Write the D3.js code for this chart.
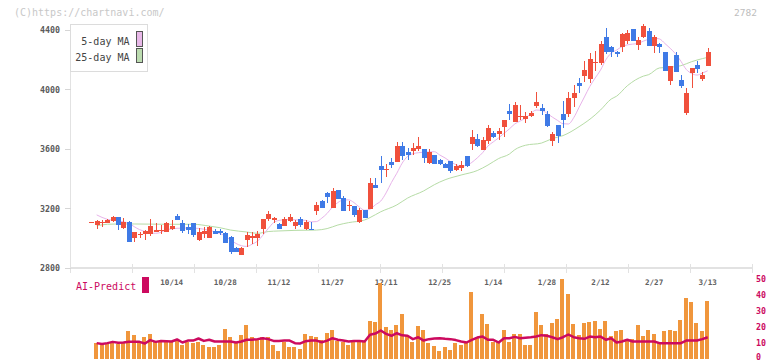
<!DOCTYPE html>
<html><head><meta charset="utf-8">
<script src="https://cdn.jsdelivr.net/npm/d3@7"></script>
<style>body{margin:0;background:#fff}svg{display:block}</style>
</head><body><svg id="c" width="772" height="361"></svg>
<script>
// ---- data ----
const open  = [3111,3086,3108,3105,3118,3143,3067,3111,3004,3022,3031,3028,3050,3051,3044,3064,3149,3100,3078,3100,2988,3026,3004,3049,3046,3038,3011,2937,2887,2988,3000,3000,3062,3129,3123,3093,3082,3118,3082,3129,3062,3064,3185,3252,3306,3205,3324,3271,3220,3217,3109,3190,3197,3358,3484,3460,3514,3515,3620,3582,3587,3600,3600,3506,3560,3526,3501,3519,3459,3473,3553,3633,3667,3593,3653,3707,3700,3748,3855,3783,3814,3802,3822,3889,3875,3835,3656,3761,3835,3834,3945,4046,4093,4071,4180,4180,4355,4288,4250,4284,4329,4406,4299,4355,4393,4292,4306,4252,4059,4232,4064,3844,4108,4162,4071,4160];
const high  = [3111,3123,3125,3130,3152,3145,3138,3113,3042,3044,3057,3129,3102,3089,3111,3123,3163,3123,3098,3102,3071,3076,3080,3060,3065,3040,3013,2944,2944,3040,3040,3049,3131,3185,3145,3105,3145,3160,3120,3140,3120,3107,3246,3260,3313,3340,3326,3284,3252,3220,3203,3192,3405,3405,3553,3497,3538,3649,3647,3605,3640,3680,3602,3602,3562,3530,3505,3522,3500,3520,3555,3727,3700,3680,3761,3720,3741,3797,3902,3918,3896,3851,3855,3983,3902,3857,3712,3763,3925,3986,4030,4075,4191,4243,4258,4326,4415,4290,4262,4382,4400,4408,4355,4440,4415,4366,4310,4254,4160,4250,4097,4008,4144,4191,4119,4277];
const low   = [3111,3060,3076,3100,3111,3057,3065,2977,2977,3000,2990,3017,3044,3031,3040,3057,3122,3035,3026,3006,2981,3004,3004,3026,3020,2968,2892,2906,2887,2944,2959,2950,3026,3116,3102,3060,3082,3110,3062,3075,3055,3055,3156,3203,3235,3205,3264,3185,3185,3145,3105,3134,3195,3336,3374,3414,3475,3512,3526,3526,3560,3584,3508,3500,3499,3490,3470,3440,3450,3452,3480,3593,3613,3593,3633,3673,3660,3680,3795,3783,3795,3777,3815,3873,3829,3750,3620,3638,3739,3817,3884,3974,4052,4041,4126,4165,4239,4217,4218,4253,4306,4327,4265,4345,4290,4247,4243,4124,4030,4119,4007,3828,4010,4113,4059,4158];
const close = [3111,3116,3112,3125,3143,3087,3111,2977,3040,3030,3047,3082,3053,3054,3100,3082,3123,3051,3057,3022,3044,3049,3076,3031,3033,2970,2906,2910,2937,3022,3017,3031,3129,3163,3138,3062,3129,3143,3111,3091,3107,3060,3224,3205,3279,3318,3266,3185,3226,3156,3190,3136,3371,3338,3456,3468,3494,3620,3555,3562,3607,3620,3539,3580,3501,3499,3474,3454,3484,3493,3486,3680,3620,3660,3741,3680,3720,3795,3835,3896,3820,3820,3842,3914,3857,3754,3701,3687,3795,3941,3979,4026,4131,4205,4186,4306,4250,4255,4236,4373,4378,4329,4332,4427,4294,4351,4288,4126,4158,4121,4023,3979,4142,4137,4097,4250];
const volume= [null,9.8,8.6,8.9,10.2,8.9,10.6,16.9,14.8,10.2,13.2,15.6,10.2,10.2,10.2,10.2,11.0,8.2,10.2,9.4,10.6,8.2,7.3,6.9,8.6,18.6,13.6,10.6,14.8,21.1,13.6,11.5,13.6,13.6,8.6,5.0,10.2,7.3,7.3,6.0,15.6,14.0,13.2,11.5,16.0,18.1,11.0,10.6,8.6,10.6,10.2,10.6,23.6,22.8,47.5,20.0,17.9,21.0,27.9,14.2,10.6,20.4,17.9,10.0,7.9,5.0,7.1,5.4,9.6,8.5,10.6,41.3,13.3,27.9,21.7,10.6,10.6,17.9,10.6,15.4,15.4,8.5,8.5,29.2,21.0,15.4,22.5,24.6,49.8,40.4,21.7,14.8,22.5,23.0,23.6,18.5,23.6,13.8,16.9,17.9,12.3,12.3,21.0,14.2,17.9,15.4,10.0,16.9,17.9,17.3,24.2,37.9,35.4,22.5,17.5,36.2];
const aiPredict=[null,9.6,9.0,9.6,10.4,9.8,10.0,10.4,10.4,10.4,9.4,11.5,10.4,11.0,10.8,10.6,11.9,10.0,11.2,11.2,12.5,11.0,11.7,10.6,10.6,10.6,10.6,10.0,10.6,11.7,11.7,12.1,12.7,12.1,11.0,11.0,11.2,11.2,9.6,9.4,10.8,11.2,11.2,10.2,11.2,12.7,11.7,11.2,10.6,11.0,11.0,10.6,14.8,15.6,17.5,15.4,14.2,15.8,14.5,14.2,12.1,13.3,11.2,12.1,12.5,12.7,12.3,12.1,11.5,10.6,10.0,11.7,13.1,13.7,11.7,11.7,10.0,12.7,12.7,13.5,12.7,13.0,13.3,13.7,14.6,14.2,13.3,12.1,13.3,15.0,13.3,12.7,12.3,13.7,13.3,13.7,11.7,12.7,10.0,10.6,11.7,10.6,10.6,10.6,10.6,10.6,9.6,9.6,9.6,9.6,9.6,11.2,11.2,11.2,12.1,13.3];
const ma5Idx=[1,3,5,7,8,9,10,11,12,13,14,15,16,18,20,22,24,25,26,27,28,29,30,31,32,33,34,35,37,38,40,41,42,43,44,45,46,47,48,49,50,51,52,53,54,55,56,57,58,59,60,61,63,64,65,66,67,68,69,70,71,72,73,74,75,76,77,78,79,80,81,82,83,84,85,86,87,88,89,90,91,92,93,94,95,96,97,98,99,100,101,102,103,104,105,106,107,108,109,110,111,112,113,114,115];
const ma5   =[3157,3127,3116,3100,3078,3058,3046,3036,3033,3040,3058,3062,3067,3069,3066,3053,3032,3015,2988,2965,2950,2945,2960,2980,3020,3065,3105,3120,3127,3124,3120,3110,3112,3135,3167,3210,3240,3257,3258,3240,3210,3188,3195,3225,3250,3305,3375,3437,3505,3550,3568,3575,3580,3582,3560,3540,3515,3495,3485,3489,3510,3540,3575,3620,3648,3675,3705,3735,3768,3788,3808,3838,3862,3860,3840,3815,3792,3770,3768,3810,3880,3950,4020,4077,4130,4200,4245,4265,4288,4300,4305,4310,4325,4338,4345,4340,4310,4277,4240,4190,4135,4108,4097,4110,4126];
const ma25Idx=[1,3,5,8,14,19,22,24,26,29,31,33,35,38,42,44,46,48,51,52,54,57,59,62,64,66,69,72,74,76,78,79,81,84,86,88,91,94,95,97,98,100,103,104,106,109,110,112,113,115];
const ma25   =[3084,3094,3096,3096,3094,3094,3082,3071,3055,3042,3033,3045,3049,3053,3055,3065,3089,3105,3123,3139,3178,3224,3270,3318,3360,3393,3425,3455,3492,3536,3566,3595,3625,3640,3670,3690,3750,3829,3862,3936,3955,4025,4090,4100,4145,4153,4160,4187,4198,4216];
const dateIdx   =[15,25,35,45,55,65,75,85,95,105,115];
const dateLabels=["10/14","10/28","11/12","11/27","12/11","12/25","1/14","1/28","2/12","2/27","3/13"];
const priceTicks=[2800,3200,3600,4000,4400];
const volTicks  =[0,10,20,30,40,50];
const legendNames=["5-day MA","25-day MA"];
const gridCount=11;

// ---- drawing ----
const svg=d3.select("#c");
const UP="#f0503c", DOWN="#3f7ae6", GRID="#e2e2e2", MAG="#cc0a5f";
const MONO="'DejaVu Sans Mono', monospace";
const x=d3.scaleLinear().domain([0,open.length-1]).range([91.3,707.7]);
const y=d3.scaleLinear().domain([2800,4400]).range([268,30]);
const yv=d3.scaleLinear().domain([0,50]).range([358.5,278.5]);
const gx=d3.scaleLinear().domain([0,gridCount]).range([70.5,752.5]);

svg.append("text").attr("x",14).attr("y",15.5).attr("font-family",MONO).attr("font-size",10)
  .attr("fill","#c8c8c8").text("(C)https://chartnavi.com/");
svg.append("text").attr("x",757).attr("y",15.5).attr("text-anchor","end").attr("font-family",MONO)
  .attr("font-size",9.5).attr("fill","#bdbdbd").text("2782");

// frame
const fr=svg.append("g").attr("shape-rendering","crispEdges");
fr.append("line").attr("x1",70).attr("x2",753).attr("y1",268).attr("y2",268).attr("stroke",GRID).attr("stroke-width",2);
fr.append("line").attr("x1",70.5).attr("x2",70.5).attr("y1",24).attr("y2",273).attr("stroke",GRID).attr("stroke-width",1.5);
fr.selectAll(".gt").data(d3.range(gridCount+1)).join("line")
  .attr("x1",d=>gx(d)).attr("x2",d=>gx(d)).attr("y1",264).attr("y2",273).attr("stroke",GRID).attr("stroke-width",1.5);
fr.selectAll(".yt").data(priceTicks).join("line")
  .attr("x1",65).attr("x2",71).attr("y1",d=>y(d)).attr("y2",d=>y(d)).attr("stroke","#d6d6d6");
svg.selectAll(".yl").data(priceTicks).join("text")
  .attr("x",60).attr("y",d=>y(d)+3).attr("text-anchor","end").attr("font-family",MONO)
  .attr("font-size",8.3).attr("font-weight","bold").attr("fill","#5a5a5a").text(d=>d);
svg.selectAll(".xl").data(dateIdx).join("text")
  .attr("x",d=>x(d)).attr("y",285).attr("text-anchor","middle").attr("font-family",MONO)
  .attr("font-size",7.6).attr("font-weight","bold").attr("fill","#606060").text((d,i)=>dateLabels[i]);

// volume bars
svg.append("g").attr("shape-rendering","crispEdges").selectAll("rect")
  .data(volume.map((v,i)=>({v,i})).filter(d=>d.v!=null)).join("rect")
  .attr("x",d=>Math.round(x(d.i)-2.5)).attr("width",4)
  .attr("y",d=>yv(d.v)).attr("height",d=>yv(0)-yv(d.v)).attr("fill","#f0963c");
// AI line
const aiPts=aiPredict.map((v,i)=>({v,i})).filter(d=>d.v!=null);
svg.append("path").datum(aiPts).attr("fill","none").attr("stroke",MAG).attr("stroke-width",2.5)
  .attr("stroke-linejoin","round").attr("d",d3.line().x(d=>x(d.i)).y(d=>yv(d.v)));
svg.selectAll(".vl").data(volTicks).join("text")
  .attr("x",756).attr("y",d=>Math.min(yv(d)+3,359.5)).attr("font-family",MONO).attr("font-size",8.3)
  .attr("font-weight","bold").attr("fill",MAG).text(d=>d);
svg.append("text").attr("x",76).attr("y",290).attr("font-family",MONO).attr("font-size",10)
  .attr("fill",MAG).text("AI-Predict");
svg.append("rect").attr("x",142).attr("y",277).attr("width",7).attr("height",16).attr("fill",MAG);

// moving averages
svg.append("path").datum(ma25Idx.map((d,k)=>[d,ma25[k]])).attr("fill","none").attr("stroke","#b6dca6")
  .attr("stroke-width",1).attr("d",d3.line().x(d=>x(d[0])).y(d=>y(d[1])).curve(d3.curveMonotoneX));
svg.append("path").datum(ma5Idx.map((d,k)=>[d,ma5[k]])).attr("fill","none").attr("stroke","#e8b4ea")
  .attr("stroke-width",1).attr("d",d3.line().x(d=>x(d[0])).y(d=>y(d[1])).curve(d3.curveMonotoneX));

// candles
const cd=open.map((o,i)=>({i,o,h:high[i],l:low[i],c:close[i]}));
const cg=svg.append("g").attr("shape-rendering","crispEdges");
cg.selectAll(".w").data(cd).join("line")
  .attr("x1",d=>Math.round(x(d.i))+0.5).attr("x2",d=>Math.round(x(d.i))+0.5)
  .attr("y1",d=>y(d.h)).attr("y2",d=>y(d.l)).attr("stroke",d=>d.c>=d.o?UP:DOWN);
cg.selectAll(".b").data(cd).join("rect")
  .attr("x",d=>Math.round(x(d.i))-2).attr("width",5)
  .attr("y",d=>y(Math.max(d.o,d.c))).attr("height",d=>Math.max(1.2,Math.abs(y(d.o)-y(d.c))))
  .attr("fill",d=>d.c>=d.o?UP:DOWN);

// legend
const lg=svg.append("g");
lg.append("rect").attr("x",70.5).attr("y",24.5).attr("width",77).attr("height",47)
  .attr("fill","#fff").attr("stroke","#dcdcdc").attr("shape-rendering","crispEdges");
const legCol=["#e8b8e8","#bcdcb0"];
legendNames.forEach((n,k)=>{
  lg.append("text").attr("x",129.5).attr("y",44.5+k*16).attr("text-anchor","end")
    .attr("font-family",MONO).attr("font-size",10).attr("fill","#444").text(n);
  lg.append("rect").attr("x",136.5).attr("y",31.5+k*16.5).attr("width",6).attr("height",14.5)
    .attr("fill",legCol[k]).attr("stroke","#555").attr("shape-rendering","crispEdges");
});
</script></body></html>
